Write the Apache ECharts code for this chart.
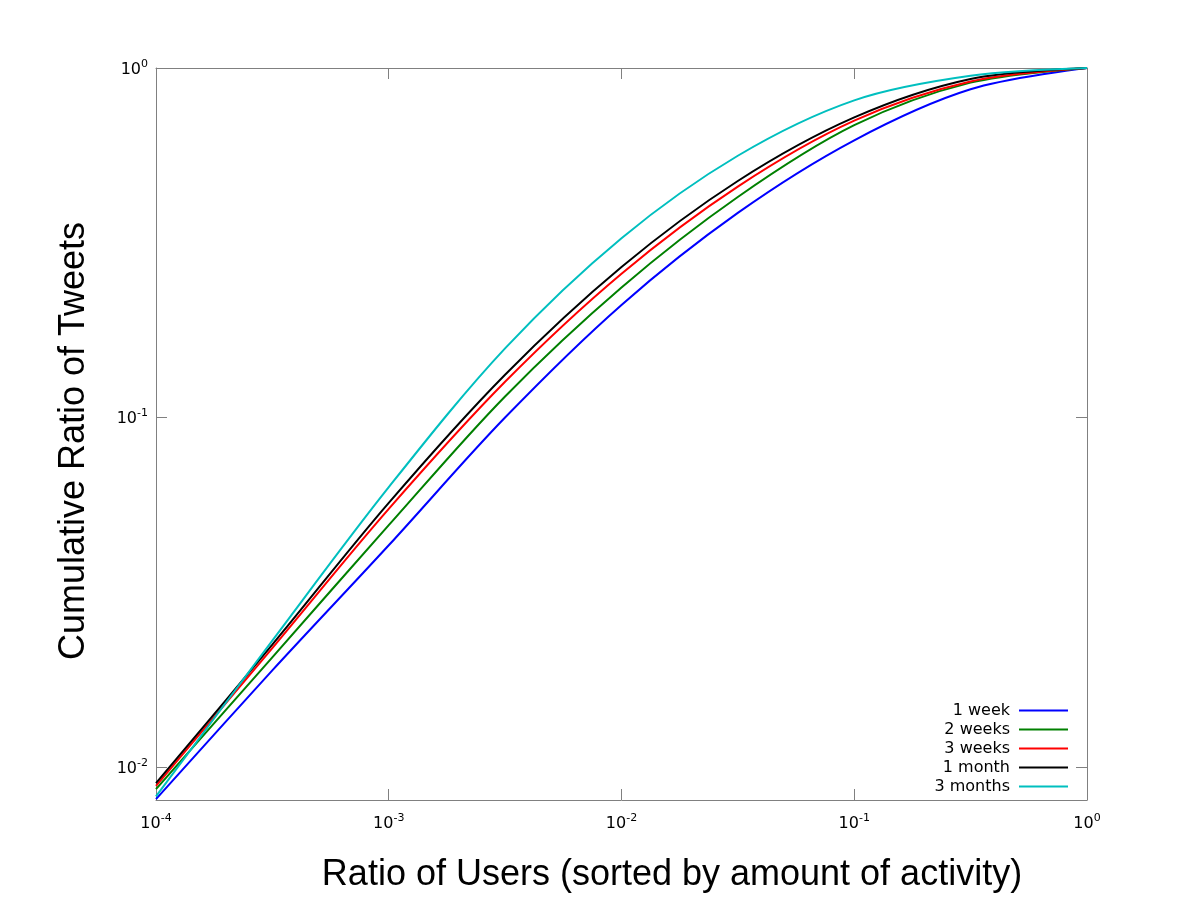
<!DOCTYPE html>
<html>
<head>
<meta charset="utf-8">
<script src="https://cdn.jsdelivr.net/npm/echarts@6/dist/echarts.min.js"></script>
<style>
html,body{margin:0;padding:0;background:#fff;}
#chart{width:1200px;height:900px;}
</style>
</head>
<body>
<div id="chart"></div>
<script>
// Ratio of users (x) at which values were read (half-decade steps)
var userRatio = [0.0001, 0.000316, 0.001, 0.00316, 0.01, 0.0316, 0.1, 0.316, 1];

var seriesNames = ['1 week', '2 weeks', '3 weeks', '1 month', '3 months'];

var week1   = [0.0081, 0.0189, 0.0431, 0.100, 0.210, 0.385, 0.621, 0.869, 1.0];
var weeks2  = [0.00865, 0.0206, 0.0492, 0.1149, 0.2356, 0.4275, 0.686, 0.908, 1.0];
var weeks3  = [0.00884, 0.0219, 0.0548, 0.1266, 0.258, 0.458, 0.707, 0.915, 1.0];
var month1  = [0.0090, 0.0224, 0.0570, 0.1326, 0.2696, 0.475, 0.722, 0.930, 1.0];
var months3 = [0.00824, 0.0230, 0.0632, 0.1577, 0.326, 0.561, 0.808, 0.950, 1.0];

var seriesValues = [week1, weeks2, weeks3, month1, months3];
var seriesColors = ['#0000ff', '#008000', '#ff0000', '#000000', '#00bfbf'];

var xMin = 0.0001, xMax = 1;
var yMin = 0.00805, yMax = 1;

function powLabel(v) {
  var l = Math.log(v) / Math.LN10;
  var e = Math.round(l);
  if (Math.abs(l - e) > 1e-6) return '';
  return '{b|10}{s|' + e + '}';
}
var richLabel = {
  b: {fontSize: 16, fontFamily: 'DejaVu Sans', color: '#000', padding: [3, 0, 0, 0]},
  s: {fontSize: 11, fontFamily: 'DejaVu Sans', color: '#000', verticalAlign: 'top'}
};
var axisGray = '#808080';

var chart = echarts.init(document.getElementById('chart'), null, {renderer: 'canvas'});

var series = seriesNames.map(function (name, i) {
  return {
    name: name,
    type: 'line',
    symbol: 'none',
    showSymbol: false,
    smooth: 0.33,
    xAxisIndex: 0,
    yAxisIndex: 0,
    lineStyle: {color: seriesColors[i], width: 2},
    itemStyle: {color: seriesColors[i]},
    data: userRatio.map(function (x, j) { return [x, seriesValues[i][j]]; })
  };
});

chart.setOption({
  animation: false,
  backgroundColor: '#fff',
  grid: {left: 156, right: 113, top: 68, bottom: 100, containLabel: false, outerBoundsMode: 'none'},
  xAxis: [
    {
      type: 'log', logBase: 10, min: xMin, max: xMax, position: 'bottom',
      axisLine: {show: true, lineStyle: {color: axisGray, width: 1}},
      axisTick: {show: true, inside: true, length: 11, lineStyle: {color: axisGray}},
      axisLabel: {show: true, margin: 13, formatter: powLabel, rich: richLabel},
      splitLine: {show: false}, minorTick: {show: false}
    },
    {
      type: 'log', logBase: 10, min: xMin, max: xMax, position: 'top',
      axisLine: {show: true, lineStyle: {color: axisGray, width: 1}},
      axisTick: {show: true, inside: true, length: 11, lineStyle: {color: axisGray}},
      axisLabel: {show: false},
      splitLine: {show: false}
    }
  ],
  yAxis: [
    {
      type: 'log', logBase: 10, min: yMin, max: yMax, position: 'left',
      axisLine: {show: true, lineStyle: {color: axisGray, width: 1}},
      axisTick: {show: true, inside: true, length: 11, lineStyle: {color: axisGray}},
      axisLabel: {show: true, margin: 8, formatter: powLabel, rich: richLabel},
      splitLine: {show: false}
    },
    {
      type: 'log', logBase: 10, min: yMin, max: yMax, position: 'right',
      axisLine: {show: true, lineStyle: {color: axisGray, width: 1}},
      axisTick: {show: true, inside: true, length: 11, lineStyle: {color: axisGray}},
      axisLabel: {show: false},
      splitLine: {show: false}
    }
  ],
  legend: {
    orient: 'vertical',
    align: 'right',
    right: 132,
    top: 701,
    icon: 'rect',
    itemWidth: 49,
    itemHeight: 2,
    itemGap: 0,
    padding: 0,
    textStyle: {fontSize: 16, lineHeight: 19, fontFamily: 'DejaVu Sans', color: '#000', padding: [0, 4, 0, 0]},
    data: seriesNames
  },
  graphic: [
    {
      type: 'text', x: 74, y: 441, rotation: Math.PI / 2,
      style: {text: 'Cumulative Ratio of Tweets', fontSize: 36, fontFamily: 'Liberation Sans', fill: '#000', align: 'center', verticalAlign: 'middle'}
    },
    {
      type: 'text', x: 672, y: 875,
      style: {text: 'Ratio of Users (sorted by amount of activity)', fontSize: 36, fontFamily: 'Liberation Sans', fill: '#000', align: 'center', verticalAlign: 'middle'}
    }
  ],
  series: series
});
</script>
</body>
</html>
